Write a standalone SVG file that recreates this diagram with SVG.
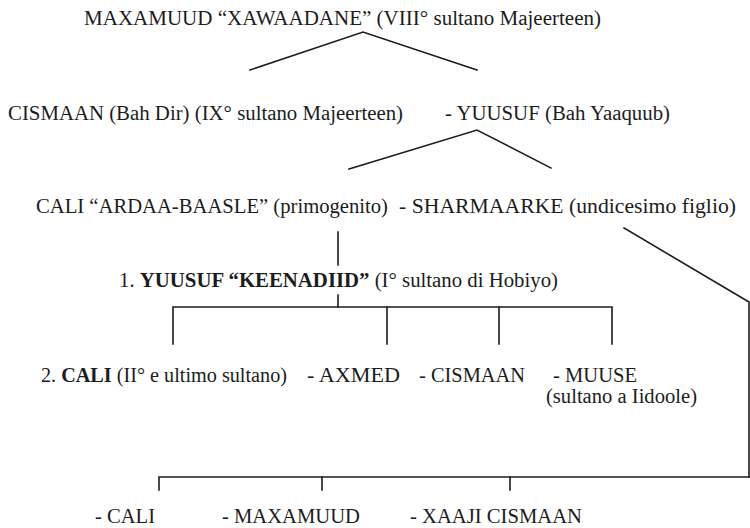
<svg xmlns="http://www.w3.org/2000/svg" width="750" height="528" viewBox="0 0 750 528">
<style>
text{font-family:"Liberation Serif","Times New Roman",serif;font-size:20.5px;fill:#1c1c1c}
.b{font-weight:bold}
.c{fill:none;stroke:#1c1c1c;stroke-width:1.6;stroke-linecap:square}
</style>
<rect width="750" height="528" fill="#ffffff"/>
<g id="connectors">
<polyline class="c" points="250,70 363,32 477,70"/>
<polyline class="c" points="349,169 477,130 551,168"/>
<line class="c" x1="338" y1="232" x2="338" y2="265"/>
<line class="c" x1="338" y1="295" x2="338" y2="307"/>
<polyline class="c" points="173,344 173,307 612,307 612,344"/>
<line class="c" x1="387" y1="307" x2="387" y2="344"/>
<line class="c" x1="499" y1="307" x2="499" y2="344"/>
<polyline class="c" points="624,228 749,302 749,477"/>
<polyline class="c" points="159,490 159,477 749,477"/>
<line class="c" x1="322" y1="477" x2="322" y2="490"/>
<line class="c" x1="510" y1="477" x2="510" y2="490"/>
</g>
<g id="maxamuud"><text x="84" y="25" textLength="517" lengthAdjust="spacingAndGlyphs">MAXAMUUD “XAWAADANE” (VIII° sultano Majeerteen)</text></g>
<g id="cismaan-ix"><text x="8" y="120" textLength="395" lengthAdjust="spacingAndGlyphs">CISMAAN (Bah Dir) (IX° sultano Majeerteen)</text></g>
<g id="yuusuf-bah"><text x="445" y="120" textLength="225" lengthAdjust="spacingAndGlyphs">- YUUSUF (Bah Yaaquub)</text></g>
<g id="cali-ardaa"><text x="36" y="213" textLength="352" lengthAdjust="spacingAndGlyphs">CALI “ARDAA-BAASLE” (primogenito)</text></g>
<g id="sharmaarke"><text x="399" y="213" textLength="337" lengthAdjust="spacingAndGlyphs">- SHARMAARKE (undicesimo figlio)</text></g>
<g id="yuusuf-keenadiid"><text x="119" y="287" textLength="439" lengthAdjust="spacingAndGlyphs">1. <tspan class="b">YUUSUF “KEENADIID”</tspan> (I° sultano di Hobiyo)</text></g>
<g id="cali-ii"><text x="41" y="382" textLength="246" lengthAdjust="spacingAndGlyphs">2. <tspan class="b">CALI</tspan> (II° e ultimo sultano)</text></g>
<g id="axmed"><text x="307" y="382" textLength="93" lengthAdjust="spacingAndGlyphs">- AXMED</text></g>
<g id="cismaan"><text x="419" y="382" textLength="106" lengthAdjust="spacingAndGlyphs">- CISMAAN</text></g>
<g id="muuse"><text x="553" y="382" textLength="84" lengthAdjust="spacingAndGlyphs">- MUUSE</text><text x="546" y="403" textLength="151" lengthAdjust="spacingAndGlyphs">(sultano a Iidoole)</text></g>
<g id="cali"><text x="95" y="523" textLength="60" lengthAdjust="spacingAndGlyphs">- CALI</text></g>
<g id="maxamuud-b"><text x="222" y="523" textLength="138" lengthAdjust="spacingAndGlyphs">- MAXAMUUD</text></g>
<g id="xaaji-cismaan"><text x="410" y="523" textLength="172" lengthAdjust="spacingAndGlyphs">- XAAJI CISMAAN</text></g>
</svg>
